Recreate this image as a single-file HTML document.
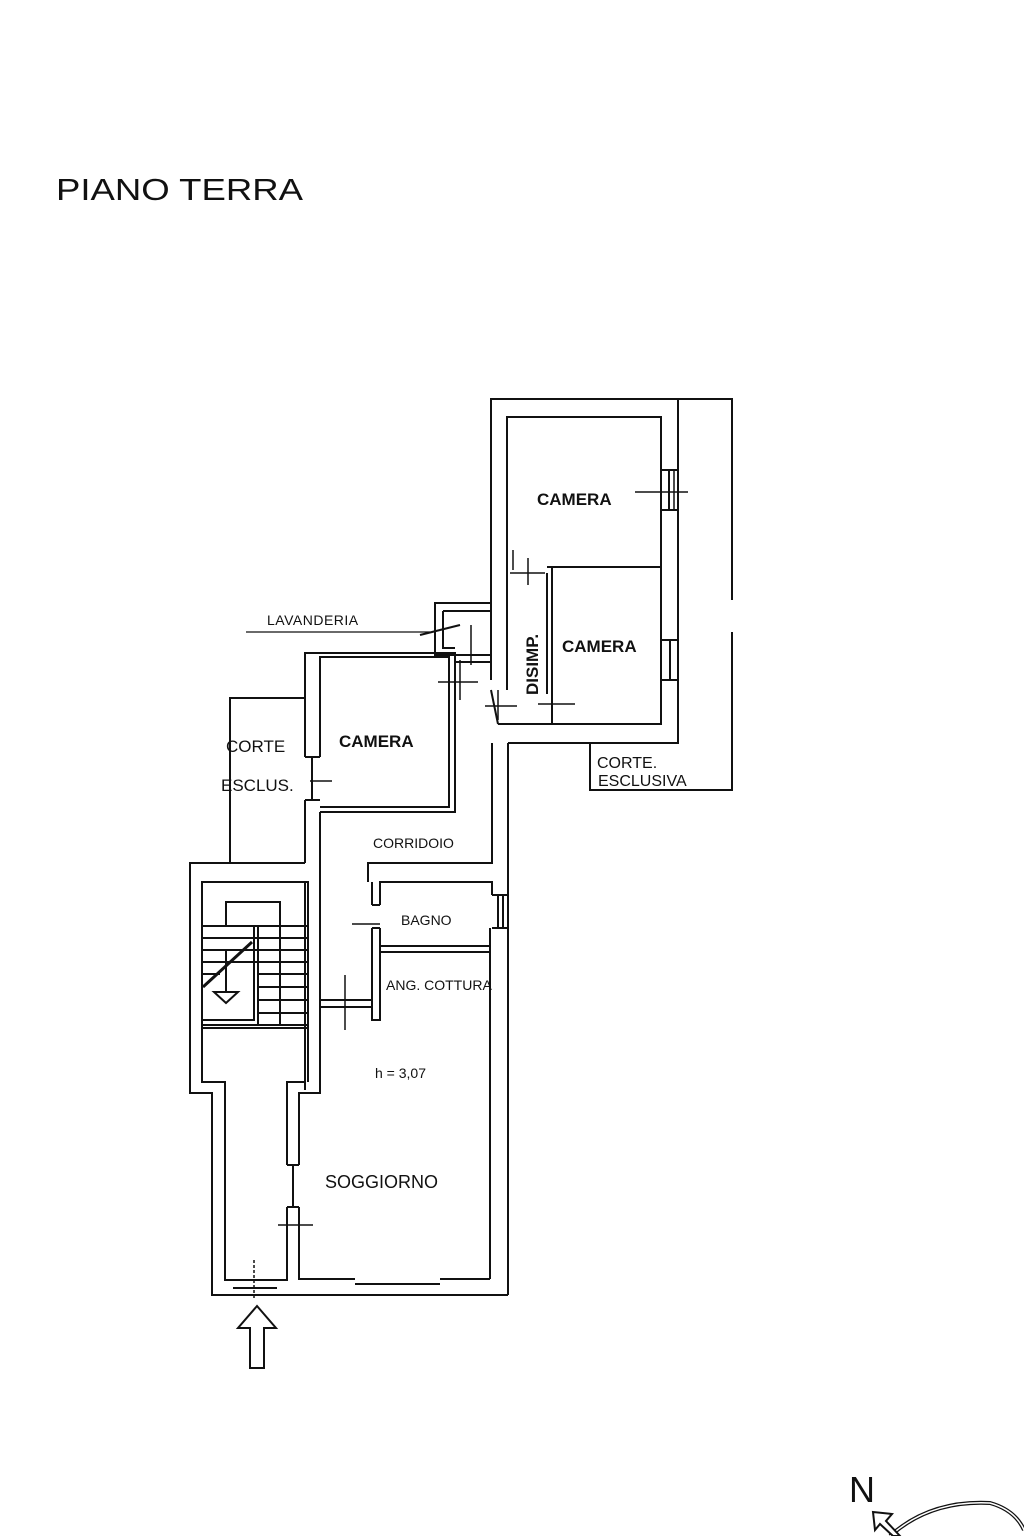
<!DOCTYPE html>
<html><head><meta charset="utf-8"><style>
html,body{margin:0;padding:0;background:#fff;}
svg{display:block;}
text{font-family:"Liberation Sans",sans-serif;fill:#111;}
</style></head><body>
<svg width="1024" height="1536" viewBox="0 0 1024 1536" xmlns="http://www.w3.org/2000/svg">
<text x="56" y="200" font-size="31" fill="#222" textLength="247" lengthAdjust="spacingAndGlyphs">PIANO TERRA</text>
<g fill="none" stroke="#111" stroke-width="2">
<polyline points="491,680 491,399 732,399 732,600"/>
<polyline points="732,632 732,790 590,790 590,743"/>
<polyline points="678,399 678,470 661,470"/>
<line x1="678" y1="470" x2="678" y2="510"/><line x1="669" y1="470" x2="669" y2="510"/>
<polyline points="661,510 678,510 678,640 661,640"/>
<line x1="678" y1="640" x2="678" y2="680"/><line x1="670" y1="640" x2="670" y2="680"/>
<polyline points="661,680 678,680 678,743 508,743"/>
<polyline points="507,567 507,417 661,417 661,567 547,567"/>
<polyline points="552,567 552,724 661,724 661,567"/>
<polyline points="547,573 547,694"/>
<line x1="498" y1="724" x2="661" y2="724"/>
<polyline points="507,567 507,690"/>
<polyline points="491,603 435,603 435,655 491,655"/>
<polyline points="443,611 491,611"/><polyline points="443,611 443,648 455,648"/>
<line x1="420" y1="635" x2="460" y2="625"/>
<polyline points="305,757 305,653 455,653 455,812 320,812"/>
<polyline points="320,757 320,657 449,657 449,807 320,807"/>
<line x1="305" y1="757" x2="320" y2="757"/><line x1="305" y1="800" x2="320" y2="800"/>
<line x1="312" y1="757" x2="312" y2="800"/>
<line x1="455" y1="662" x2="491" y2="662"/>
<line x1="491" y1="690" x2="498" y2="724"/>
<polyline points="230,863 230,698 305,698"/>
<line x1="305" y1="800" x2="305" y2="863"/>
<line x1="320" y1="812" x2="320" y2="1090"/>
<line x1="305" y1="882" x2="305" y2="1090"/>
<polyline points="492,743 492,863 368,863 368,882"/>
<polyline points="508,743 508,1295"/>
<polyline points="380,905 380,882 492,882 492,895"/>
<polyline points="372,882 372,905"/>
<line x1="372" y1="905" x2="380" y2="905"/><line x1="372" y1="928" x2="380" y2="928"/>
<polyline points="372,928 372,1020 380,1020 380,928"/>
<line x1="380" y1="952" x2="490" y2="952"/><line x1="380" y1="946" x2="490" y2="946"/>
<line x1="492" y1="895" x2="508" y2="895"/><line x1="492" y1="928" x2="508" y2="928"/>
<line x1="498" y1="895" x2="498" y2="928"/><line x1="503" y1="895" x2="503" y2="928"/>
<line x1="490" y1="928" x2="490" y2="1279"/>
<line x1="320" y1="1000" x2="372" y2="1000"/><line x1="320" y1="1007" x2="372" y2="1007"/>
<polyline points="305,863 190,863 190,1093 212,1093 212,1295 508,1295"/>
<polyline points="308,1082 308,882 202,882 202,1082 225,1082 225,1280 233,1280"/>
<polyline points="277,1280 287,1280 287,1207"/>
<polyline points="287,1165 287,1082 305,1082"/>
<polyline points="320,1090 320,1093 299,1093 299,1165"/>
<line x1="287" y1="1165" x2="299" y2="1165"/><line x1="287" y1="1207" x2="299" y2="1207"/>
<line x1="293" y1="1165" x2="293" y2="1207"/>
<polyline points="299,1207 299,1279 355,1279"/>
<line x1="440" y1="1279" x2="490" y2="1279"/>
<line x1="355" y1="1284" x2="440" y2="1284"/>
<line x1="233" y1="1280" x2="277" y2="1280"/><line x1="233" y1="1288" x2="277" y2="1288"/>
<polyline points="226,925 226,902 280,902 280,1025"/>
<polyline points="202,1020 254,1020 254,926"/>
<line x1="258" y1="926" x2="258" y2="1025"/>
<line x1="202" y1="926" x2="308" y2="926"/><line x1="202" y1="938" x2="308" y2="938"/>
<line x1="202" y1="950" x2="308" y2="950"/><line x1="202" y1="962" x2="308" y2="962"/>
<line x1="202" y1="974" x2="220" y2="974"/><line x1="258" y1="974" x2="308" y2="974"/>
<line x1="258" y1="987" x2="308" y2="987"/><line x1="258" y1="1000" x2="308" y2="1000"/>
<line x1="258" y1="1013" x2="308" y2="1013"/>
<line x1="202" y1="1025" x2="308" y2="1025"/><line x1="202" y1="1028" x2="308" y2="1028"/>
<line x1="203" y1="987" x2="252" y2="942" stroke-width="3"/>
<line x1="226" y1="950" x2="226" y2="992"/>
<polygon points="214,992 238,992 226,1003"/>
<polygon points="250,1368 264,1368 264,1328 276,1328 257,1306 238,1328 250,1328"/>
<g stroke-width="1.5">
<line x1="635" y1="492" x2="688" y2="492"/><line x1="674" y1="470" x2="674" y2="510"/>
<line x1="510" y1="573" x2="545" y2="573"/><line x1="528" y1="558" x2="528" y2="585"/>
<line x1="513" y1="550" x2="513" y2="570"/>
<line x1="538" y1="704" x2="575" y2="704"/><line x1="552" y1="690" x2="552" y2="720"/>
<line x1="485" y1="706" x2="517" y2="706"/><line x1="498" y1="690" x2="498" y2="720"/>
<line x1="438" y1="682" x2="478" y2="682"/><line x1="460" y1="660" x2="460" y2="700"/>
<line x1="471" y1="625" x2="471" y2="665"/>
<line x1="310" y1="781" x2="332" y2="781"/>
<line x1="352" y1="924" x2="380" y2="924"/>
<line x1="345" y1="975" x2="345" y2="1030"/>
<line x1="278" y1="1225" x2="313" y2="1225"/>
<line x1="254" y1="1260" x2="254" y2="1300" stroke-dasharray="3,2"/>
</g>
<path d="M890,1536 Q930,1500 990,1503 Q1015,1510 1024,1530" stroke-width="4"/>
<path d="M890,1536 Q930,1500 990,1503 Q1015,1510 1024,1530" stroke="#fff" stroke-width="1.5"/>
<polygon points="873,1512 892,1514 886,1521 900,1536 893,1536 880,1524 875,1530" fill="#fff"/>
</g>
<text x="849" y="1502" font-size="36">N</text>
<text x="267" y="625" font-size="14" letter-spacing="0.5">LAVANDERIA</text>
<line x1="246" y1="632" x2="430" y2="632" stroke="#111" stroke-width="1.2"/>
<text x="537" y="505" font-size="17" font-weight="bold">CAMERA</text>
<text x="562" y="652" font-size="17" font-weight="bold">CAMERA</text>
<text x="538" y="695" font-size="17" font-weight="bold" transform="rotate(-90 538 695)">DISIMP.</text>
<text x="339" y="747" font-size="17" font-weight="bold">CAMERA</text>
<text x="226" y="752" font-size="17">CORTE</text>
<text x="221" y="791" font-size="17">ESCLUS.</text>
<text x="597" y="768" font-size="16">CORTE.</text>
<text x="598" y="786" font-size="16">ESCLUSIVA</text>
<text x="373" y="848" font-size="14">CORRIDOIO</text>
<text x="401" y="925" font-size="14">BAGNO</text>
<text x="386" y="990" font-size="14">ANG. COTTURA</text>
<text x="375" y="1078" font-size="14">h = 3,07</text>
<text x="325" y="1188" font-size="18">SOGGIORNO</text>
</svg>
</body></html>
